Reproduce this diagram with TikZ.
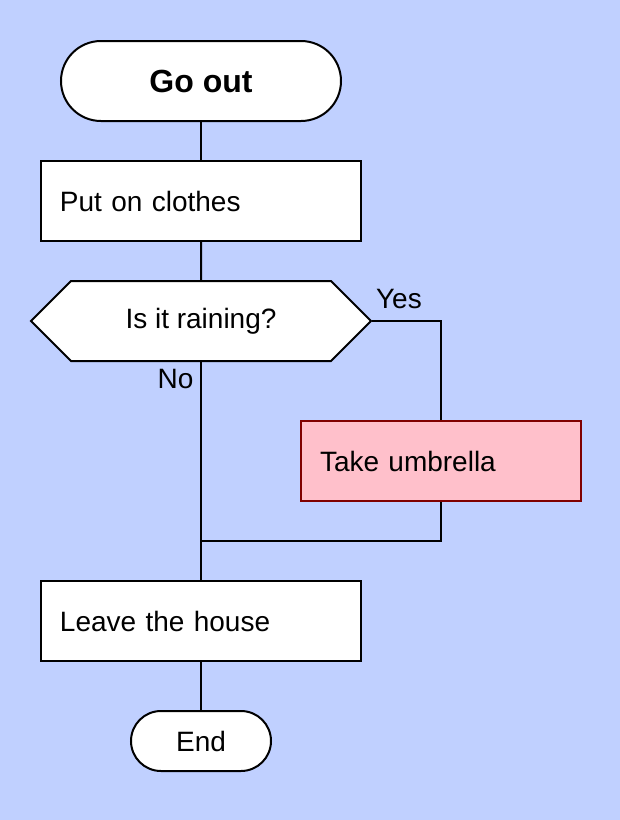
\documentclass[tikz,border=0pt]{standalone}
\usepackage{fontspec}
\setmainfont{Liberation Sans}
\usetikzlibrary{shapes.symbols}

\definecolor{bgblue}{RGB}{192,208,255}
\definecolor{umbpink}{RGB}{255,192,203}
\definecolor{umbred}{RGB}{128,0,0}

\tikzset{
    term/.style={draw, fill=white, rounded corners=20pt, line width=1pt},
    stepbox/.style={draw, fill=white, line width=1pt, minimum height=40pt, text width=141pt, inner xsep=9.5pt, align=left, font=\fontsize{14}{17}\selectfont},
    decide/.style={draw, fill=white, line width=1pt, signal, signal to=west and east, signal pointer angle=90, minimum width=170pt, minimum height=40pt, font=\fontsize{14}{17}\selectfont},
    flow/.style={line width=1pt},
    branch/.style={font=\fontsize{14}{17}\selectfont}
}

\begin{document}
\begin{tikzpicture}[x=0.5pt, y=-0.5pt]
    \fill [bgblue] (0,0) rectangle (620,820);
    \useasboundingbox (0,0) rectangle (620,820);
    \node [term, minimum width=140pt, minimum height=40pt, font=\fontsize{16}{19}\selectfont\bfseries] (goout) at (201,81) {Go out};
    \node [stepbox] (clothes) at (201,201) {Put on clothes};
    \node [decide] (rain) at (201,321) {Is it raining?};
    \node [stepbox, fill=umbpink, draw=umbred, text width=121pt] (umbrella) at (441,461) {Take umbrella};
    \node [stepbox] (leave) at (201,621) {Leave the house};
    \node [term, rounded corners=15pt, minimum width=70pt, minimum height=30pt, font=\fontsize{14}{17}\selectfont] (end) at (201,741) {End};
    \coordinate (merge) at (201,541);
    % connectors
    \draw [flow] (goout) -- (clothes);
    \draw [flow] (clothes) -- (rain);
    \draw [flow] (rain.east) -| (umbrella.north) node [pos=0, anchor=south west, xshift=-2pt, yshift=2.5pt, branch] {Yes};
    \draw [flow] (rain.south) -- (leave.north) node [pos=0, anchor=north east, branch] {No};
    \draw [flow] (umbrella.south) |- (merge);
    \draw [flow] (leave) -- (end);
\end{tikzpicture}
\end{document}
